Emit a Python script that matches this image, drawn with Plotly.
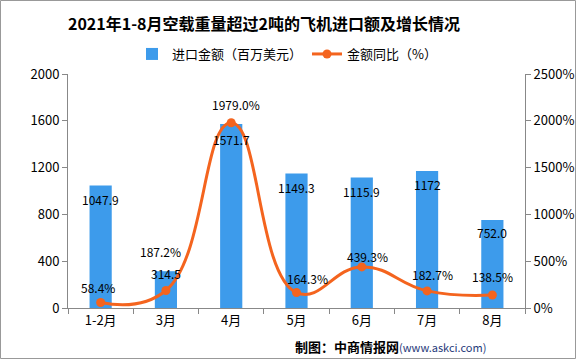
import plotly.graph_objects as go

categories = ["1-2月", "3月", "4月", "5月", "6月", "7月", "8月"]
import_value = [1047.9, 314.5, 1571.7, 1149.3, 1115.9, 1172, 752.0]
yoy_pct = [58.4, 187.2, 1979.0, 164.3, 439.3, 182.7, 138.5]
bar_labels = ["1047.9", "314.5", "1571.7", "1149.3", "1115.9", "1172", "752.0"]
line_labels = ["58.4%", "187.2%", "1979.0%", "164.3%", "439.3%", "182.7%", "138.5%"]
left_ticks = [0, 400, 800, 1200, 1600, 2000]
right_ticks = [0, 500, 1000, 1500, 2000, 2500]
right_ticktext = ["0%", "500%", "1000%", "1500%", "2000%", "2500%"]

# label placement tweaks (pixels)
bar_label_yshift = [-14, -2, -15, -14, -14, -14, -12]
line_label_xshift = [-3, -5, 5, 11, 6, 5, 0]
line_label_yshift = [15, 39, 18, 14, 10, 16, 19]

BAR_COLOR = "#3D9BEB"
LINE_COLOR = "#F4641E"
FONT = "Noto Sans CJK SC"

# plot area in pixels
L, R, T, B = 68, 51, 74, 51
W, H = 576, 359
pw = W - L - R
ph = H - T - B


def px_x(x):
    return (x - L) / pw


def px_y(y):
    return (H - B - y) / ph


fig = go.Figure()
fig.add_trace(go.Bar(
    x=categories, y=import_value, name="进口金额（百万美元）",
    marker=dict(color=BAR_COLOR, line=dict(width=0)),
    yaxis="y",
))
fig.add_trace(go.Scatter(
    x=categories, y=yoy_pct, name="金额同比（%）",
    mode="lines+markers",
    line=dict(color=LINE_COLOR, width=3, shape="spline", smoothing=1.3),
    marker=dict(color=LINE_COLOR, size=9),
    yaxis="y2",
))

annotations = []
for c, v, t, ys in zip(categories, import_value, bar_labels, bar_label_yshift):
    annotations.append(dict(x=c, y=v, xref="x", yref="y", text=t, showarrow=False,
                            yshift=ys, font=dict(family=FONT, size=12, color="#000000")))
for c, v, t, xs, ys in zip(categories, yoy_pct, line_labels, line_label_xshift, line_label_yshift):
    annotations.append(dict(x=c, y=v, xref="x", yref="y2", text=t, showarrow=False,
                            xshift=xs, yshift=ys, font=dict(family=FONT, size=12, color="#000000")))
annotations.append(dict(
    x=px_x(488), y=px_y(346), xref="paper", yref="paper", xanchor="right", yanchor="middle",
    text="<b>制图：中商情报网</b><span style='font-size:11px;color:#1F3A7A'>(www.askci.com)</span>",
    showarrow=False, font=dict(family=FONT, size=13, color="#000000")))

fig.update_layout(
    width=W, height=H,
    margin=dict(l=L, r=R, t=T, b=B, autoexpand=False),
    paper_bgcolor="white", plot_bgcolor="white",
    font=dict(family=FONT, size=13, color="#000000"),
    title=dict(text="<b>2021年1-8月空载重量超过2吨的飞机进口额及增长情况</b>",
               x=264 / W, xanchor="center", y=1 - 24 / H, yanchor="middle",
               font=dict(family=FONT, size=16, color="#000000")),
    legend=dict(orientation="h", x=px_x(287), xanchor="center", y=px_y(54), yanchor="middle",
                font=dict(family=FONT, size=13), itemwidth=30,
                traceorder="normal", bgcolor="rgba(0,0,0,0)"),
    bargap=0.66,
    showlegend=True,
    xaxis=dict(type="category", showline=True, linecolor="#888888", linewidth=1,
               ticks="outside", tickson="boundaries", ticklen=5, tickcolor="#888888",
               showgrid=False, tickfont=dict(family=FONT, size=13)),
    yaxis=dict(range=[0, 2000], tickvals=left_ticks, showline=True, linecolor="#888888",
               linewidth=1, ticks="outside", ticklen=5, tickcolor="#888888", showgrid=False,
               zeroline=False, tickfont=dict(family=FONT, size=13)),
    yaxis2=dict(range=[0, 2500], tickvals=right_ticks, ticktext=right_ticktext,
                overlaying="y", side="right", showline=True, linecolor="#888888",
                linewidth=1, ticks="outside", ticklen=5, tickcolor="#888888",
                showgrid=False, zeroline=False, tickfont=dict(family=FONT, size=13)),
    annotations=annotations,
    shapes=[dict(type="rect", xref="paper", yref="paper",
                 x0=px_x(0.5), x1=px_x(575.5), y0=px_y(358.5), y1=px_y(0.5),
                 line=dict(color="#999999", width=1))],
)

fig.write_html("out.html", config={"displayModeBar": False},
               post_script="document.body.style.margin='0';document.body.style.overflow='hidden';")
